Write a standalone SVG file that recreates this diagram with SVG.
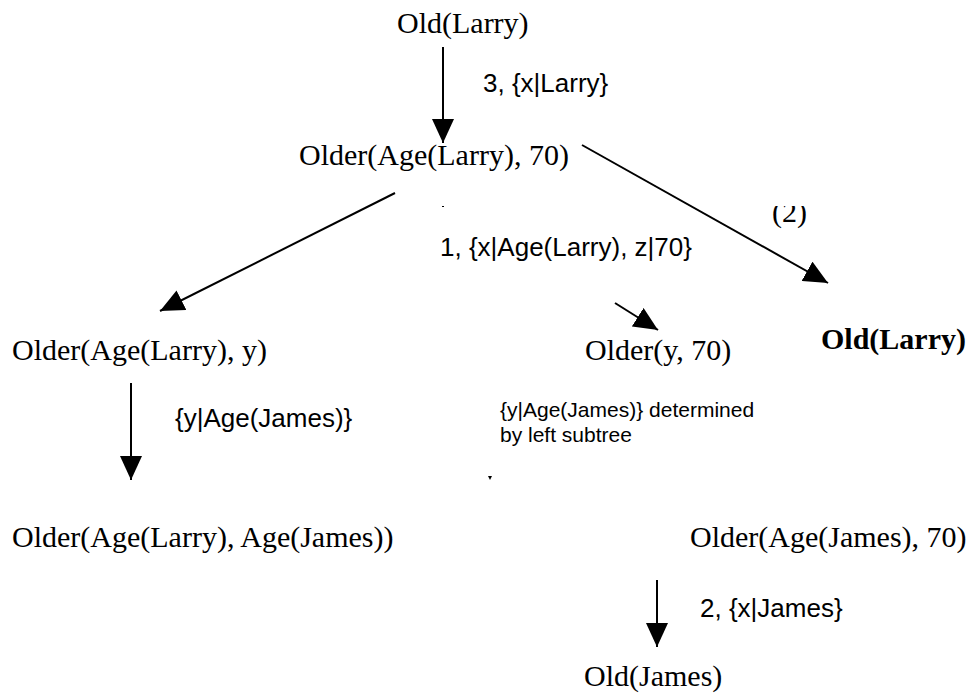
<svg xmlns="http://www.w3.org/2000/svg" width="979" height="694" viewBox="0 0 979 694">
<style>
.n{font-family:"Liberation Serif","Times New Roman",serif;font-size:30px;fill:#000}
.b{font-weight:bold}
.l{font-family:"Liberation Sans",Arial,sans-serif;font-size:26px;fill:#000}
.s{font-family:"Liberation Sans",Arial,sans-serif;font-size:21px;fill:#000}
.e{stroke:#000;stroke-width:2;fill:none}
</style>
<defs>
<marker id="ah" viewBox="0 0 24 22" refX="24" refY="11" markerWidth="24" markerHeight="22" markerUnits="userSpaceOnUse" orient="auto">
<path d="M0,0L24,11L0,22Z" fill="#000"/>
</marker>
<clipPath id="clip2"><rect x="760" y="206" width="60" height="30"/></clipPath>
</defs>
<rect width="979" height="694" fill="#fff"/>
<g id="connectors">
<line class="e" x1="443" y1="47" x2="443" y2="143" marker-end="url(#ah)"/>
<line class="e" x1="582" y1="145" x2="828" y2="283" marker-end="url(#ah)"/>
<line class="e" x1="395" y1="193" x2="160" y2="311" marker-end="url(#ah)"/>
<line class="e" x1="615" y1="303" x2="658" y2="330" marker-end="url(#ah)"/>
<line class="e" x1="131" y1="383" x2="131" y2="480" marker-end="url(#ah)"/>
<line class="e" x1="657" y1="580" x2="657" y2="647" marker-end="url(#ah)"/>
<path d="M488,476L492,476L490,480Z" fill="#000"/>
<rect x="442" y="206" width="2" height="1" fill="#000"/>
<text class="l" x="483" y="92">3, {x|Larry}</text>
<text class="l" x="440" y="256">1, {x|Age(Larry), z|70}</text>
<text class="n" x="772" y="222" clip-path="url(#clip2)">(2)</text>
<text class="l" x="175" y="427">{y|Age(James)}</text>
<text class="s" x="500" y="417">{y|Age(James)} determined</text>
<text class="s" x="500" y="442">by left subtree</text>
<text class="l" x="700" y="617">2, {x|James}</text>
</g>
<g id="n1"><text class="n" x="397" y="33">Old(Larry)</text></g>
<g id="n2"><text class="n" x="299" y="165">Older(Age(Larry), 70)</text></g>
<g id="n3"><text class="n" x="12" y="360">Older(Age(Larry), y)</text></g>
<g id="n4"><text class="n" x="585" y="360">Older(y, 70)</text></g>
<g id="n5"><text class="n b" x="821" y="349">Old(Larry)</text></g>
<g id="n6"><text class="n" x="12" y="547">Older(Age(Larry), Age(James))</text></g>
<g id="n7"><text class="n" x="690" y="547">Older(Age(James), 70)</text></g>
<g id="n8"><text class="n" x="584" y="686">Old(James)</text></g>
</svg>
